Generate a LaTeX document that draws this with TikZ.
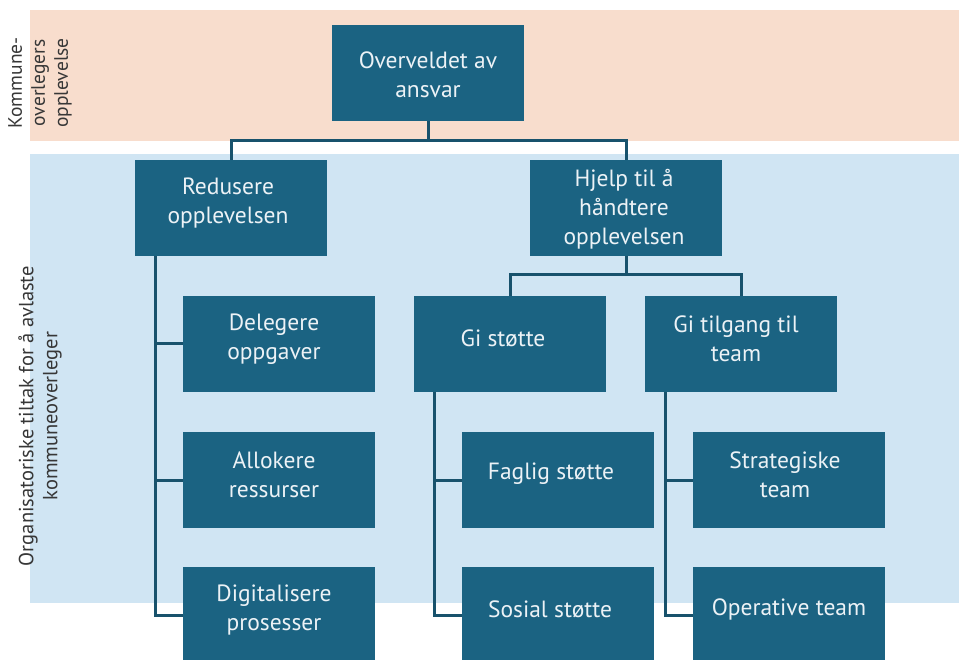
\documentclass[tikz,border=0pt]{standalone}
\usepackage{fontspec}
\setmainfont{PT Sans}
\definecolor{boxfill}{RGB}{27,99,130}
\definecolor{linecol}{RGB}{24,82,108}
\definecolor{peach}{RGB}{248,221,205}
\definecolor{paleblue}{RGB}{208,229,243}
\definecolor{boxtxt}{RGB}{236,242,246}
\definecolor{sidetxt}{RGB}{55,55,55}
\tikzset{
  box/.style={fill=boxfill, draw=none, minimum width=192pt, minimum height=96pt, inner sep=0pt},
  boxtext/.style={text=boxtxt, align=center, font=\fontsize{23.5}{29}\selectfont, inner sep=0pt},
  conn/.style={draw=linecol, line width=3pt},
  sidelabel/.style={text=sidetxt, align=center, rotate=90, inner sep=0pt},
}
\begin{document}
\begin{tikzpicture}[x=1pt,y=-1pt]
\useasboundingbox (0,0) rectangle (959,660);
\clip (0,0) rectangle (959,660);
% bands
\fill[peach] (30,10) rectangle (959,141);
\fill[paleblue] (30,154) rectangle (959,603);
% side labels
\node[sidelabel, font=\fontsize{19.5}{23}\selectfont] (lab1) at (40,83) {Kommune-\\overlegers\\opplevelse};
\node[sidelabel, font=\fontsize{20.5}{24}\selectfont] (lab2) at (40,416) {Organisatoriske tiltak for å avlaste\\kommuneoverleger};
% boxes
\node[box] (top) at (428,73) {};
\node[box] (red) at (231,208) {};
\node[box] (hjelp) at (626,208) {};
\node[box] (deleg) at (279,344) {};
\node[box] (allok) at (279,480) {};
\node[box] (digit) at (279,615) {};
\node[box] (gist) at (510,344) {};
\node[box] (gitil) at (741,344) {};
\node[box] (fag) at (558,480) {};
\node[box] (sos) at (558,615) {};
\node[box] (strat) at (789,480) {};
\node[box] (oper) at (789,615) {};
% connectors
\coordinate (j1) at ([yshift=-19pt]top.south);
\draw[conn] (top.south) -- (j1) -| (red.north);
\draw[conn] (j1) -| (hjelp.north);
\coordinate (j2) at ([yshift=-18pt]hjelp.south);
\draw[conn] (hjelp.south) -- (j2) -| (gist.north);
\draw[conn] (j2) -| (gitil.north);
\coordinate (rl) at ([xshift=-76pt]red.south);
\draw[conn] (rl) |- (digit.west);
\draw[conn] (allok.west) -- (allok.west -| rl);
\draw[conn] (deleg.west) -- (deleg.west -| rl);
\coordinate (gl) at ([xshift=-76pt]gist.south);
\draw[conn] (gl) |- (sos.west);
\draw[conn] (fag.west) -- (fag.west -| gl);
\coordinate (tl) at ([xshift=-76pt]gitil.south);
\draw[conn] (tl) |- (oper.west);
\draw[conn] (strat.west) -- (strat.west -| tl);
% redraw boxes on top of connectors
\foreach \n in {top,red,hjelp,deleg,allok,digit,gist,gitil,fag,sos,strat,oper}{
  \fill[boxfill] (\n.south west) rectangle (\n.north east);
}
% texts
\node[boxtext] (ttop) at ([yshift=-2pt]top.center) {Overveldet av\\ansvar};
\node[boxtext] (tred) at ([xshift=-3pt,yshift=5pt]red.center) {Redusere\\opplevelsen};
\node[boxtext] (thjelp) at ([xshift=-2pt,yshift=-1pt]hjelp.center) {Hjelp til å\\håndtere\\opplevelsen};
\node[boxtext] (tdeleg) at ([xshift=-5pt,yshift=5pt]deleg.center) {Delegere\\oppgaver};
\node[boxtext] (tallok) at ([xshift=-5pt,yshift=5pt]allok.center) {Allokere\\ressurser};
\node[boxtext] (tdigit) at ([xshift=-5pt,yshift=5pt]digit.center) {Digitalisere\\prosesser};
\node[boxtext] (tgist) at ([xshift=-7pt,yshift=6pt]gist.center) {Gi støtte};
\node[boxtext] (tgitil) at ([xshift=-5pt,yshift=5pt]gitil.center) {Gi tilgang til\\team};
\node[boxtext] (tfag) at ([xshift=-7pt,yshift=6pt]fag.center) {Faglig støtte};
\node[boxtext] (tsos) at ([xshift=-8pt,yshift=6pt]sos.center) {Sosial støtte};
\node[boxtext] (tstrat) at ([xshift=-4pt,yshift=5pt]strat.center) {Strategiske\\team};
\node[boxtext] (toper) at ([xshift=0pt,yshift=6pt]oper.center) {Operative team};
\end{tikzpicture}
\end{document}
